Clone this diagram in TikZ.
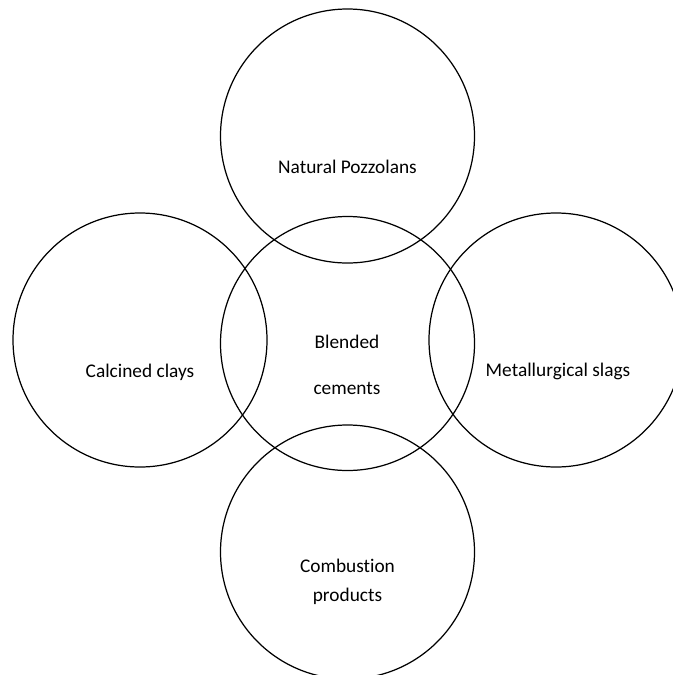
\documentclass[tikz,border=0pt]{standalone}
\usepackage{fontspec}
\setmainfont{Carlito}[Ligatures=NoCommon]
\usetikzlibrary{positioning}

\tikzset{
  blob/.style={circle,draw,line width=0.7pt,minimum size=5.08cm,inner sep=0pt},
  lbl/.style={align=center,font=\fontsize{11}{13.5}\selectfont,inner sep=0pt}
}

\begin{document}
\begin{tikzpicture}
          \useasboundingbox (0,0) rectangle (13.46,-13.5);
          \clip (0,0) rectangle (13.46,-13.5);
          % the five circles
          \node[blob] (mid) at (6.95,-6.87) {};
          \node[blob] (top) at (6.95,-2.72) {};
          \node[blob] (bot) at (6.95,-11.04) {};
          \node[blob] (lft) at (2.80,-6.80) {};
          \node[blob] (rgt) at (11.12,-6.80) {};

          \node[lbl] (toptxt) at (6.95,-3.34) {Natural Pozzolans};
          \node[lbl] (lfttxt) at (2.80,-7.44) {Calcined clays};
          \node[lbl] (rgttxt) at (11.16,-7.42) {Metallurgical slags};
          \node[lbl] (midtxt) at (6.94,-7.30) {Blended\\[12.5pt]cements};
          \node[lbl] (bottxt) at (6.95,-11.63) {Combustion\\[3pt]products};
        \end{tikzpicture}
\end{document}
